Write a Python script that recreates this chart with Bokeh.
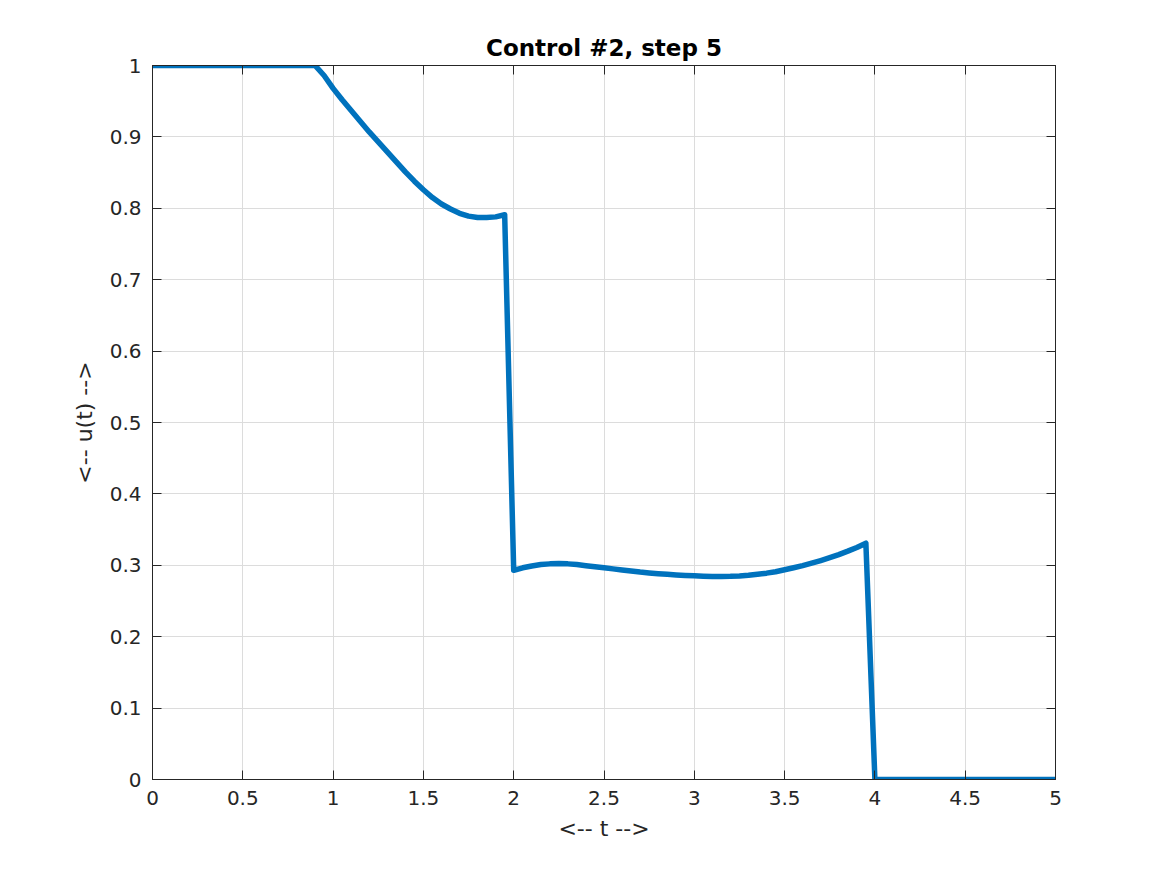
from bokeh.plotting import figure
from bokeh.models import Range1d, FixedTicker, LinearAxis, CustomJSTickFormatter
from bokeh.embed import file_html
from bokeh.resources import INLINE

# time samples (s) and control values
t = [0.0, 0.5, 0.9, 0.95, 1.0, 1.05, 1.1, 1.15, 1.2, 1.25, 1.3, 1.35, 1.4, 1.45,
     1.5, 1.55, 1.6, 1.65, 1.7, 1.75, 1.8, 1.85, 1.9, 1.95,
     2.0, 2.05, 2.1, 2.15, 2.2, 2.25, 2.3, 2.35, 2.4, 2.45, 2.5, 2.55, 2.6, 2.65,
     2.7, 2.75, 2.8, 2.85, 2.9, 2.95, 3.0, 3.05, 3.1, 3.15, 3.2, 3.25, 3.3, 3.35,
     3.4, 3.45, 3.5, 3.55, 3.6, 3.65, 3.7, 3.75, 3.8, 3.85, 3.9, 3.95,
     4.0, 4.5, 5.0]
u = [1.0, 1.0, 1.0, 0.986, 0.968, 0.952, 0.937, 0.922, 0.907, 0.893, 0.879, 0.865,
     0.851, 0.838, 0.826, 0.815, 0.806, 0.799, 0.793, 0.789, 0.787, 0.787, 0.788, 0.791,
     0.293, 0.2965, 0.299, 0.301, 0.302, 0.3025, 0.302, 0.301, 0.2995, 0.298, 0.2965,
     0.295, 0.2935, 0.292, 0.2905, 0.2893, 0.2882, 0.2873, 0.2865, 0.2858, 0.2852, 0.2847,
     0.2844, 0.2843, 0.2845, 0.285, 0.286, 0.2875, 0.289, 0.291, 0.2937, 0.2965, 0.2995,
     0.303, 0.3067, 0.3107, 0.315, 0.3198, 0.325, 0.331,
     0.0, 0.0, 0.0]

x_ticks = [0, 0.5, 1, 1.5, 2, 2.5, 3, 3.5, 4, 4.5, 5]
y_ticks = [0, 0.1, 0.2, 0.3, 0.4, 0.5, 0.6, 0.7, 0.8, 0.9, 1]

title_text = "Control #2, step 5"
x_label = "<-- t -->"
y_label = "<-- u(t) -->"

AX = "#262626"
FONT = "DejaVu Sans"

p = figure(width=1159, height=867, output_backend="svg", toolbar_location=None,
           x_range=Range1d(0, 5), y_range=Range1d(0, 1),
           min_border_left=152, min_border_right=104, min_border_top=65, min_border_bottom=88,
           title=title_text)
p.background_fill_color = "white"
p.border_fill_color = "white"
p.outline_line_color = AX
p.outline_line_width = 1

p.title.align = "center"
p.title.text_font = FONT
p.title.text_font_size = "23px"
p.title.text_font_style = "bold"
p.title.text_color = "black"
p.title.offset = 0
p.title.standoff = 9

fmt = CustomJSTickFormatter(code="return Number(tick.toFixed(2)).toString();")
blank = CustomJSTickFormatter(code="return '';")

def style(ax, ticks, formatter):
    ax.ticker = FixedTicker(ticks=ticks)
    ax.formatter = formatter
    ax.axis_line_color = AX
    ax.major_tick_line_color = AX
    ax.major_tick_in = 9
    ax.major_tick_out = 0
    ax.minor_tick_line_color = None
    ax.major_label_text_font = FONT
    ax.major_label_text_font_size = "20px"
    ax.major_label_text_color = AX
    ax.major_label_standoff = 11
    ax.axis_label_text_font = FONT
    ax.axis_label_text_font_size = "22px"
    ax.axis_label_text_font_style = "normal"
    ax.axis_label_text_color = AX

style(p.xaxis[0], x_ticks, fmt)
style(p.yaxis[0], y_ticks, fmt)
p.xaxis[0].axis_label = x_label
p.yaxis[0].axis_label = y_label
p.xaxis[0].axis_label_standoff = 8
p.yaxis[0].axis_label_standoff = 10

top = LinearAxis()
style(top, x_ticks, blank)
top.major_label_standoff = 0
right = LinearAxis()
style(right, y_ticks, blank)
right.major_label_standoff = 0
p.add_layout(top, "above")
p.add_layout(right, "right")

p.xgrid.ticker = FixedTicker(ticks=x_ticks)
p.ygrid.ticker = FixedTicker(ticks=y_ticks)
p.grid.grid_line_color = "#dcdcdc"
p.grid.grid_line_width = 1

p.line(t, u, line_color="#0072BD", line_width=5.5, line_join="round")

open("out.html", "w").write(file_html(p, INLINE))
